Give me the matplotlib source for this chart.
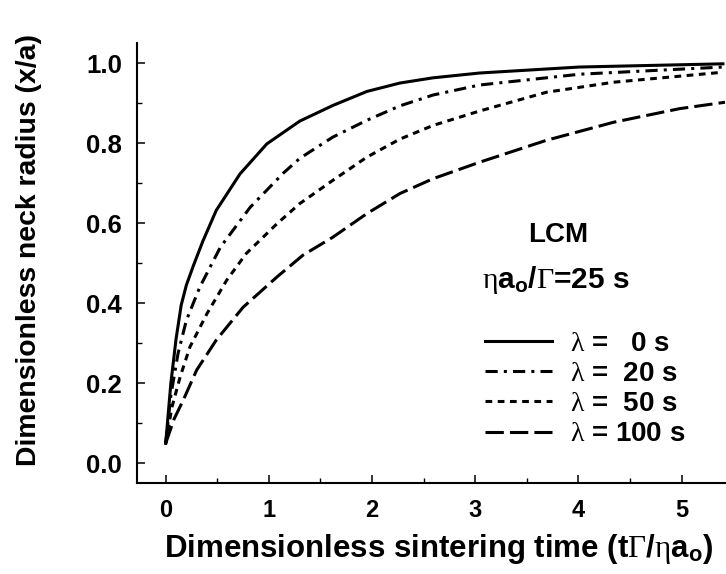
import matplotlib
matplotlib.use("Agg")
import matplotlib.pyplot as plt
from matplotlib.ticker import MultipleLocator

plt.rcParams["font.family"] = ["Liberation Sans", "DejaVu Sans"]
plt.rcParams["font.weight"] = "bold"
plt.rcParams["mathtext.fontset"] = "custom"
plt.rcParams["mathtext.rm"] = "Liberation Serif:weight=normal"
plt.rcParams["mathtext.it"] = "Liberation Serif:weight=normal"
plt.rcParams["mathtext.bf"] = "Liberation Sans:bold"

# neck radius x/a vs dimensionless time, LCM model, eta*a0/Gamma = 25 s
t_0 = [0.0, 0.05, 0.10, 0.15, 0.20, 0.27, 0.36, 0.49, 0.72, 0.98, 1.30, 1.62, 1.95, 2.27, 2.59, 3.04, 4.01, 5.40]
r_0 = [0.05, 0.20, 0.31, 0.395, 0.445, 0.495, 0.555, 0.632, 0.723, 0.798, 0.855, 0.894, 0.929, 0.950, 0.963, 0.975, 0.99, 0.998]

t_20 = [0.0, 0.05, 0.12, 0.2, 0.33, 0.53, 0.82, 1.14, 1.30, 1.62, 1.95, 2.27, 2.59, 3.04, 4.01, 5.40]
r_20 = [0.05, 0.17, 0.275, 0.357, 0.44, 0.54, 0.64, 0.725, 0.762, 0.815, 0.857, 0.893, 0.920, 0.945, 0.972, 0.99]

t_50 = [0.0, 0.06, 0.14, 0.235, 0.40, 0.59, 0.78, 1.08, 1.30, 1.62, 1.95, 2.27, 2.59, 3.04, 3.69, 4.34, 5.40]
r_50 = [0.05, 0.14, 0.216, 0.291, 0.374, 0.457, 0.524, 0.599, 0.649, 0.707, 0.765, 0.81, 0.844, 0.88, 0.927, 0.952, 0.977]

t_100 = [0.0, 0.08, 0.17, 0.30, 0.49, 0.75, 1.08, 1.33, 1.62, 1.95, 2.27, 2.59, 3.04, 3.69, 4.34, 4.98, 5.42]
r_100 = [0.05, 0.11, 0.158, 0.233, 0.308, 0.39, 0.466, 0.52, 0.565, 0.624, 0.674, 0.711, 0.752, 0.807, 0.852, 0.886, 0.902]

labels = [r"$\lambda$ =   0 s", r"$\lambda$ =  20 s", r"$\lambda$ =  50 s", r"$\lambda$ = 100 s"]

fig = plt.figure(figsize=(7.26, 5.74), dpi=100)
ax = fig.add_axes([136.7 / 726, 91 / 574, 589.3 / 726, 440 / 574])

lw = 2.2
ax.plot(t_0, r_0, color="black", lw=lw, linestyle="-", label=labels[0])
ax.plot(t_20, r_20, color="black", lw=lw, linestyle=(0, (4, 2, 1, 2)), label=labels[1])
ax.plot(t_50, r_50, color="black", lw=lw, linestyle=(0, (2.2, 1.8)), label=labels[2])
ax.plot(t_100, r_100, color="black", lw=lw, linestyle=(0, (6, 2)), label=labels[3])

ax.set_xlim(-0.281, 5.43)
ax.set_ylim(-0.049, 1.05)
ax.spines["top"].set_visible(False)
ax.spines["right"].set_visible(False)
for s in ("left", "bottom"):
    ax.spines[s].set_linewidth(1.5)

ax.xaxis.set_major_locator(MultipleLocator(1))
ax.xaxis.set_minor_locator(MultipleLocator(0.5))
ax.yaxis.set_major_locator(MultipleLocator(0.2))
ax.yaxis.set_minor_locator(MultipleLocator(0.1))
ax.yaxis.set_major_formatter(plt.FormatStrFormatter("%.1f"))
ax.tick_params(which="major", direction="in", length=6, width=1.1)
ax.tick_params(which="minor", direction="in", length=3.5, width=1.0)
ax.tick_params(axis="y", labelsize=18.5, pad=10.5)
ax.tick_params(axis="x", labelsize=17, pad=11.5)

ax.set_xlabel(r"Dimensionless sintering time (t$\Gamma$/$\eta\mathbf{a}_\mathbf{o}$)",
              fontsize=22.5, fontweight="bold")
ax.set_ylabel("Dimensionless neck radius (x/a)", fontsize=20.4, fontweight="bold")
ax.xaxis.set_label_coords(0.513, -0.112)
ax.yaxis.set_label_coords(-0.161, 0.53)

ax.text(3.80, 0.57, "LCM", fontsize=20, ha="center", va="center")
ax.text(3.07, 0.457, r"$\eta\mathbf{a}_\mathbf{o}$/$\Gamma$=25 s", fontsize=21.5, ha="left", va="center")

ax.legend(loc="upper left", bbox_to_anchor=(0.591, 0.346), frameon=False, fontsize=20,
          handlelength=2.4, handletextpad=0.65, labelspacing=0.15, borderpad=0,
          borderaxespad=0)

fig.savefig("out.png", dpi=100)
